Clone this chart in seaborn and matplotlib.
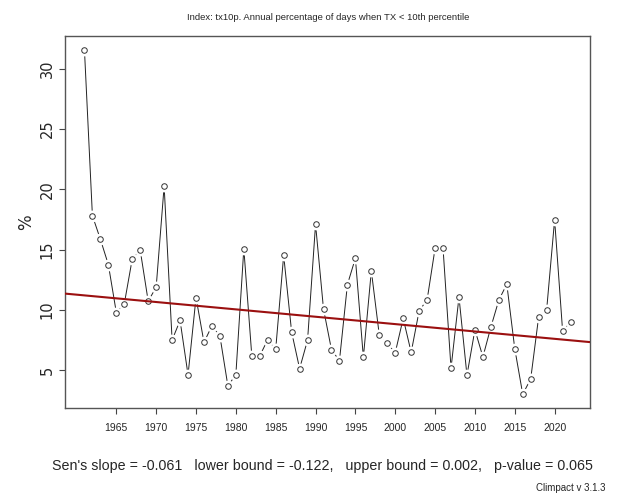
import matplotlib
matplotlib.use("Agg")
import matplotlib.pyplot as plt
import numpy as np
import pandas as pd
import seaborn as sns

# Annual tx10p values (% of days when TX < 10th percentile)
years = list(range(1961, 2023))
tx10p = [31.56, 17.81, 15.86, 13.76, 9.79, 10.51, 14.23, 14.95, 10.73, 11.89,
         20.26, 7.51, 9.13, 4.62, 11.03, 7.32, 8.69, 7.84, 3.71, 4.64,
         15.08, 6.21, 6.20, 7.54, 6.74, 14.53, 8.17, 5.14, 7.51, 17.10,
         10.07, 6.71, 5.80, 12.11, 14.29, 6.07, 13.24, 7.92, 7.23, 6.46,
         9.30, 6.49, 9.93, 10.84, 15.11, 15.11, 5.17, 11.07, 4.59, 8.36,
         6.11, 8.58, 10.82, 12.14, 6.79, 3.02, 4.29, 9.44, 10.02, 17.48,
         8.28, 8.97]

# Sen's slope trend
sens_slope = -0.061
trend_intercept = 130.83
lower_bound = -0.122
upper_bound = 0.002
p_value = 0.065

x_ticks = list(range(1965, 2021, 5))
y_ticks = [5, 10, 15, 20, 25, 30]

sns.set_style("white")
plt.rcParams["font.family"] = ["Liberation Sans", "DejaVu Sans"]

df = pd.DataFrame({"year": years, "value": tx10p})

fig = plt.figure(figsize=(6.24, 4.97), dpi=100)
ax = fig.add_axes([65 / 624, 1 - 408 / 497, (590 - 65) / 624, (408 - 36) / 497])

# connecting line
sns.lineplot(data=df, x="year", y="value", ax=ax, color="#222222",
             linewidth=0.7, zorder=2)
# white halo around points leaves small gaps in the line
ax.plot(df["year"], df["value"], linestyle="none", marker="o",
        markersize=7.5, markerfacecolor="white", markeredgecolor="white",
        zorder=3)
ax.plot(df["year"], df["value"], linestyle="none", marker="o",
        markersize=4.0, markerfacecolor="white", markeredgecolor="#333333",
        markeredgewidth=0.7, zorder=4)

# trend line across the full axis width
span = len(years) - 1
x0, x1 = years[0] - 0.04 * span, years[-1] + 0.04 * span
tx = np.array([x0, x1])
ax.plot(tx, trend_intercept + sens_slope * tx, color="#9B1010",
        linewidth=1.5, zorder=5)

ymin, ymax = min(tx10p), max(tx10p)
pad = 0.04 * (ymax - ymin)
ax.set_xlim(x0, x1)
ax.set_ylim(ymin - pad, ymax + pad)

ax.set_xticks(x_ticks)
ax.set_xticklabels([str(t) for t in x_ticks], fontsize=7.5)
ax.set_yticks(y_ticks)
ax.set_yticklabels([str(t) for t in y_ticks], fontsize=10.5, rotation=90,
                   va="center", family=["DejaVu Sans"])
ax.tick_params(axis="both", direction="out", length=4.5, width=0.8,
               color="#444444", left=True, bottom=True)
ax.tick_params(axis="x", pad=6)
ax.tick_params(axis="y", pad=3)
ax.set_xlabel("")
ax.set_ylabel("%", fontsize=12, labelpad=3, family=["DejaVu Sans"])
for s in ax.spines.values():
    s.set_color("#555555")
    s.set_linewidth(1.0)

fig.text(328 / 624, 1 - 17 / 497,
         "Index: tx10p. Annual percentage of days when TX < 10th percentile",
         ha="center", va="center", fontsize=6.8)
fig.text(322 / 624, 1 - 466 / 497,
         f"Sen's slope = {sens_slope:.3f}   lower bound = {lower_bound:.3f},   "
         f"upper bound = {upper_bound:.3f},   p-value = {p_value:.3f}",
         ha="center", va="center", fontsize=10.3)
fig.text(605 / 624, 1 - 488 / 497, "Climpact v 3.1.3",
         ha="right", va="center", fontsize=7)

fig.savefig("out.png", dpi=100)
